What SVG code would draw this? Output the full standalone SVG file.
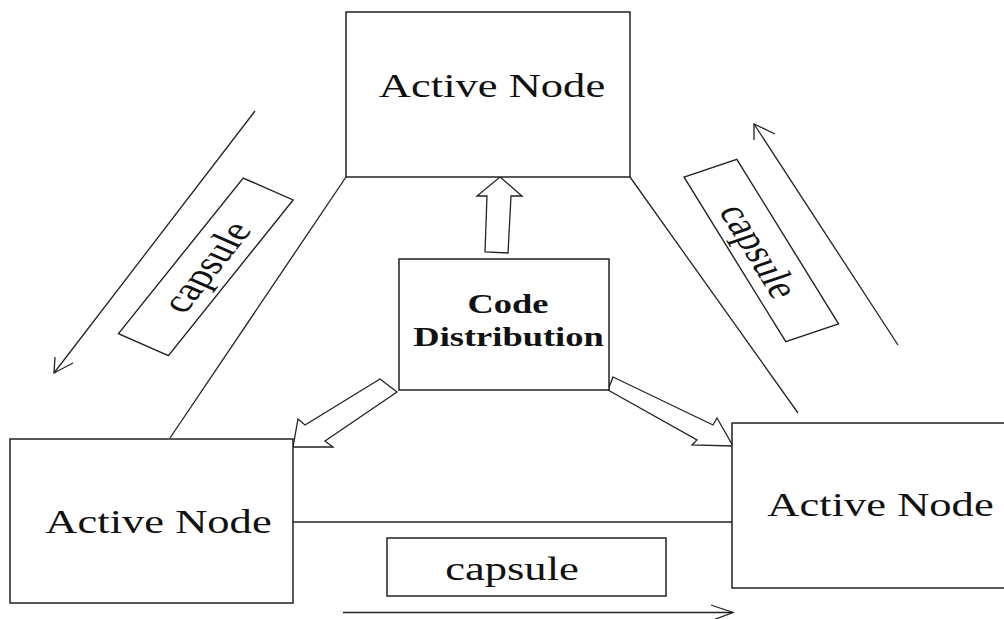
<svg xmlns="http://www.w3.org/2000/svg" width="1004" height="619" viewBox="0 0 1004 619">
<style>
.box{fill:#fff;stroke:#222;stroke-width:1.5}
.ln{fill:none;stroke:#222;stroke-width:1.3}
.blk{fill:#fff;stroke:#222;stroke-width:1.3;stroke-linejoin:miter}
.lbl{fill:#fff;stroke:#222;stroke-width:1.4;vector-effect:non-scaling-stroke}
.t{font-family:"Liberation Serif","Times New Roman",serif;font-size:33px;fill:#111;text-anchor:middle}
.tb{font-family:"Liberation Serif","Times New Roman",serif;font-size:27px;font-weight:bold;fill:#111;text-anchor:middle}
</style>
<rect width="1004" height="619" fill="#fff"/>
<g id="connectors">
<line class="ln" x1="346" y1="177" x2="170" y2="438"/>
<line class="ln" x1="630" y1="177" x2="798" y2="413"/>
<line class="ln" x1="293" y1="522" x2="732" y2="522"/>
<polygon class="blk" points="485,252 487,196 477,196 500,177 522,196 511,196 508,253"/>
<polygon class="blk" points="380,379 305,425 298,419 293,447 333,447 325,441 397,392"/>
<polygon class="blk" points="613,377 713,425 717,418 733,446 692,445 697,440 608,390"/>
<line class="ln" x1="255" y1="111" x2="54" y2="373"/>
<polyline class="ln" points="55,357 54,373 73,363"/>
<line class="ln" x1="898" y1="345" x2="754" y2="124"/>
<polyline class="ln" points="754,140 754,124 775,134"/>
<line class="ln" x1="343" y1="612.5" x2="733" y2="612.5"/>
<polyline class="ln" points="711,605 733,612.5 713,620"/>
</g>
<g id="node-top">
<rect class="box" x="346" y="12" width="284" height="165"/>
<text class="t" transform="translate(492,97) scale(1.35,1)">Active Node</text>
</g>
<g id="node-left">
<rect class="box" x="10" y="439" width="283" height="164"/>
<text class="t" transform="translate(158.5,533) scale(1.35,1)">Active Node</text>
</g>
<g id="node-right">
<rect class="box" x="732" y="423" width="290" height="165"/>
<text class="t" transform="translate(880.5,516) scale(1.35,1)">Active Node</text>
</g>
<g id="node-code">
<rect class="box" x="399" y="259" width="210" height="131"/>
<text class="tb" transform="translate(508,313) scale(1.35,1)">Code</text>
<text class="tb" transform="translate(508.5,346) scale(1.35,1)">Distribution</text>
</g>
<g id="label-left">
<g transform="translate(205.8,266.8) scale(1.35,1) rotate(-59.3)">
<rect class="lbl" x="-90.5" y="-21.5" width="181" height="43"/>
<text class="t" x="0" y="11">capsule</text>
</g>
</g>
<g id="label-right">
<g transform="translate(761.3,250.5) scale(1.35,1) rotate(65.4)">
<rect class="lbl" x="-90.5" y="-21.5" width="181" height="43"/>
<text class="t" x="0" y="12.5">capsule</text>
</g>
</g>
<g id="label-bottom">
<rect class="box" x="387" y="538" width="279" height="58"/>
<text class="t" transform="translate(512,580) scale(1.35,1)">capsule</text>
</g>
</svg>
